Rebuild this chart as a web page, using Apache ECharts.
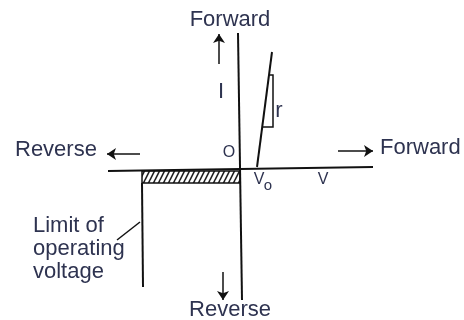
<!DOCTYPE html>
<html>
<head>
<meta charset="utf-8">
<script src="https://cdn.jsdelivr.net/npm/echarts@6/dist/echarts.min.js"></script>
<style>
html,body{margin:0;padding:0;background:#fff;}
#main{width:464px;height:320px;}
</style>
</head>
<body>
<div id="main"></div>
<script>
// diagram coordinates: V to the right, I upwards, origin O at the axis crossing
var currentAxis = [[-2, 136], [2, -131]];
var voltageAxis = [[-132, -2], [133, 2]];
var forwardCurve = [[17, 2], [32, 117]];
var slopeTriangle = [[29, 94], [33, 94], [33, 42], [23, 42]];
var limitLine = [[-98, -14], [-97, -118]];
var leaderLine = [[-123, -71], [-100, -53]];
var reverseBand = [[-98, -2], [0, -14]];   // hatched strip under the axis
var arrowUp = [[-21, 105], [-21, 135]];
var arrowDown = [[-17, -103], [-17, -131]];
var arrowLeft = [[-100, 15], [-133, 15]];
var arrowRight = [[98, 18], [133, 18]];

var textColor = '#2e3350';
var font = '"Liberation Sans", Arial, sans-serif';

// hatch pattern for the reverse strip
function hatch(){
	var c = document.createElement('canvas');
	c.width = 5; c.height = 10;
	var ctx = c.getContext('2d');
	ctx.fillStyle = '#fff';
	ctx.fillRect(0, 0, 5, 10);
	ctx.strokeStyle = '#222';
	ctx.lineWidth = 1.6;
	ctx.beginPath();
	ctx.moveTo(-2.5, 15); ctx.lineTo(5, 0);
	ctx.moveTo(2.5, 15); ctx.lineTo(10, 0);
	ctx.moveTo(-7.5, 15); ctx.lineTo(0, 0);
	ctx.stroke();
	return c;
}

function seg(arr){
	return {coords: arr};
}

var myChart = echarts.init(document.getElementById('main'));
var option = {
	backgroundColor: '#fff',
	animation: false,
	grid: {left: 0, right: 0, top: 0, bottom: 0},
	xAxis: {type: 'value', min: -240, max: 224, show: false},
	yAxis: {type: 'value', min: -151, max: 169, show: false},
	series: [
		{
			type: 'line',
			data: [],
			markArea: {
				silent: true,
				itemStyle: {
					color: {image: hatch(), repeat: 'repeat'},
					borderColor: '#111',
					borderWidth: 1.5
				},
				data: [[{coord: reverseBand[0]}, {coord: reverseBand[1]}]]
			}
		},
		{
			type: 'lines',
			coordinateSystem: 'cartesian2d',
			polyline: true,
			silent: true,
			symbol: 'none',
			lineStyle: {color: '#111', width: 2, opacity: 1},
			data: [seg(currentAxis), seg(voltageAxis), seg(forwardCurve), seg(limitLine)]
		},
		{
			type: 'lines',
			coordinateSystem: 'cartesian2d',
			polyline: true,
			silent: true,
			symbol: 'none',
			lineStyle: {color: '#111', width: 1.5, opacity: 1},
			data: [seg(slopeTriangle), seg(leaderLine)]
		},
		{
			type: 'lines',
			coordinateSystem: 'cartesian2d',
			silent: true,
			symbol: ['none', 'arrow'],
			symbolSize: [6, 9],
			lineStyle: {color: '#111', width: 1.5, opacity: 1},
			data: [seg(arrowUp), seg(arrowDown), seg(arrowLeft), seg(arrowRight)]
		}
	],
	graphic: [
		{type: 'text', x: 230, y: 20, style: {text: 'Forward', font: '22px ' + font, fill: textColor, align: 'center', verticalAlign: 'middle'}},
		{type: 'text', x: 230, y: 310, style: {text: 'Reverse', font: '22px ' + font, fill: textColor, align: 'center', verticalAlign: 'middle'}},
		{type: 'text', x: 15, y: 150, style: {text: 'Reverse', font: '22px ' + font, fill: textColor, align: 'left', verticalAlign: 'middle'}},
		{type: 'text', x: 380, y: 148, style: {text: 'Forward', font: '22px ' + font, fill: textColor, align: 'left', verticalAlign: 'middle'}},
		{type: 'text', x: 33, y: 214, style: {text: 'Limit of\noperating\nvoltage', font: '22px ' + font, lineHeight: 23, fill: textColor, align: 'left', verticalAlign: 'top'}},
		{type: 'text', x: 229, y: 153, style: {text: 'O', font: '16px ' + font, fill: textColor, align: 'center', verticalAlign: 'middle'}},
		{type: 'text', x: 259, y: 180, style: {text: 'V', font: '16px ' + font, fill: textColor, align: 'center', verticalAlign: 'middle'}},
		{type: 'text', x: 268, y: 186, style: {text: 'o', font: '15px ' + font, fill: textColor, align: 'center', verticalAlign: 'middle'}},
		{type: 'text', x: 323, y: 180, style: {text: 'V', font: '16px ' + font, fill: textColor, align: 'center', verticalAlign: 'middle'}},
		{type: 'text', x: 221, y: 92, style: {text: 'I', font: '22px ' + font, fill: textColor, align: 'center', verticalAlign: 'middle'}},
		{type: 'text', x: 279, y: 111, style: {text: 'r', font: '22px ' + font, fill: textColor, align: 'center', verticalAlign: 'middle'}}
	]
};
myChart.setOption(option);
</script>
</body>
</html>
